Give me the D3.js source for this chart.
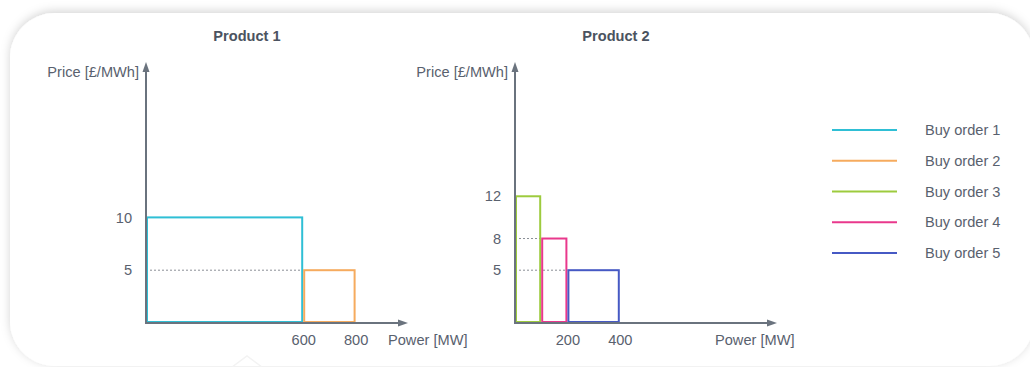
<!DOCTYPE html>
<html>
<head>
<meta charset="utf-8">
<script src="https://cdn.jsdelivr.net/npm/d3@7"></script>
<style>
  html, body { margin: 0; padding: 0; background: #ffffff; }
  svg { display: block; }
  text { font-family: "Liberation Sans", Arial, Helvetica, sans-serif; }
</style>
</head>
<body>
<div id="chart"></div>
<script>
// ---- data ----
const productTitles = ["Product 1", "Product 2"];
const orderNames = ["Buy order 1", "Buy order 2", "Buy order 3", "Buy order 4", "Buy order 5"];
const orderProduct = [0, 0, 1, 1, 1];
const orderStart = [0, 600, 0, 100, 200];     // MW
const orderEnd = [600, 800, 100, 200, 400];   // MW
const orderPrice = [10, 5, 12, 8, 5];         // £/MWh
const yTickValues = [[5, 10], [5, 8, 12]];
const xTickValues = [[600, 800], [200, 400]];
const yAxisLabel = "Price [£/MWh]";
const xAxisLabel = "Power [MW]";

// ---- styles ----
const orderColors = ["#2fbfd5", "#f6ab5e", "#9dcb3e", "#e9388c", "#4659c4"];
const axisColor = "#6a737e";
const textColor = "#59616e";
const FS = 14.6;
const W = 1030, H = 367;

const svg = d3.select("#chart").append("svg").attr("width", W).attr("height", H);

// card with soft shadow
const defs = svg.append("defs");
const f = defs.append("filter").attr("id", "shadow").attr("x", "-5%").attr("y", "-20%").attr("width", "110%").attr("height", "140%");
f.append("feDropShadow").attr("dx", 0).attr("dy", -2).attr("stdDeviation", 5)
  .attr("flood-color", "#000").attr("flood-opacity", 0.17);
svg.append("rect").attr("x", 10).attr("y", 13).attr("width", 1024).attr("height", 353)
  .attr("rx", 45).attr("ry", 45).attr("fill", "#ffffff").attr("filter", "url(#shadow)");
// faint caret at bottom
svg.append("path").attr("d", "M232,367 L247,356 L262,367").attr("fill", "none")
  .attr("stroke", "#f3f3f3").attr("stroke-width", 1.5);

// panels
const panelOrigin = [146, 515];
const xMax = 1000, yMax = 25;
const baseY = 323, topY = 59;

productTitles.forEach((title, p) => {
  const x0 = panelOrigin[p];
  const x = d3.scaleLinear().domain([0, xMax]).range([x0, x0 + 262]);
  const y = d3.scaleLinear().domain([0, yMax]).range([baseY, topY]);
  const g = svg.append("g");

  // title
  g.append("text").attr("x", x0 + 101).attr("y", 41).attr("text-anchor", "middle")
    .attr("font-size", FS).attr("font-weight", "bold").attr("fill", "#4b5360").text(title);

  const idx = orderNames.map((d, i) => i).filter(i => orderProduct[i] === p);

  // dotted guide lines
  g.selectAll("line.guide").data(idx.filter(i => orderStart[i] > 0)).enter().append("line")
    .attr("x1", x(0)).attr("x2", i => x(orderStart[i]))
    .attr("y1", i => y(orderPrice[i])).attr("y2", i => y(orderPrice[i]))
    .attr("stroke", "#8a8f96").attr("stroke-width", 1).attr("stroke-dasharray", "2,2");

  // order rectangles (outlines)
  g.selectAll("rect.order").data(idx).enter().append("rect")
    .attr("x", i => x(orderStart[i]) + 1)
    .attr("y", i => y(orderPrice[i]))
    .attr("width", i => x(orderEnd[i]) - x(orderStart[i]) - 2)
    .attr("height", i => y(0) - y(orderPrice[i]) - 1)
    .attr("fill", "none").attr("stroke", i => orderColors[i]).attr("stroke-width", 2);

  // axes lines + arrows
  g.append("line").attr("x1", x0).attr("x2", x0).attr("y1", baseY + 1).attr("y2", 70)
    .attr("stroke", axisColor).attr("stroke-width", 2);
  g.append("path").attr("d", `M${x0},62 L${x0 - 3.5},72 L${x0 + 3.5},72 Z`).attr("fill", axisColor);
  const xEnd = x(xMax);
  g.append("line").attr("x1", x0 - 1).attr("x2", xEnd - 8).attr("y1", baseY).attr("y2", baseY)
    .attr("stroke", axisColor).attr("stroke-width", 2);
  g.append("path").attr("d", `M${xEnd},${baseY} L${xEnd - 10},${baseY - 3.5} L${xEnd - 10},${baseY + 3.5} Z`).attr("fill", axisColor);

  // tick labels via d3 axes
  const ya = g.append("g").attr("transform", `translate(${x0},0)`)
    .call(d3.axisLeft(y).tickValues(yTickValues[p]).tickSize(0).tickPadding(14).tickFormat(d3.format("d")));
  const xa = g.append("g").attr("transform", `translate(0,${baseY})`)
    .call(d3.axisBottom(x).tickValues(xTickValues[p]).tickSize(0).tickPadding(12).tickFormat(d3.format("d")));
  [ya, xa].forEach(a => {
    a.select(".domain").remove();
    a.selectAll("text").attr("font-size", FS).attr("fill", textColor)
      .attr("font-family", "'Liberation Sans', Arial, sans-serif");
  });

  // axis labels
  g.append("text").attr("x", x0 - 7).attr("y", 77).attr("text-anchor", "end")
    .attr("font-size", FS).attr("fill", textColor).text(yAxisLabel);
  g.append("text").attr("x", p === 0 ? x0 + 242 : x0 + 200).attr("y", 345)
    .attr("font-size", FS).attr("fill", textColor).text(xAxisLabel);
});

// legend
const legend = svg.append("g");
const ly = d3.scalePoint().domain(orderNames).range([130, 253]);
orderNames.forEach((name, i) => {
  legend.append("line").attr("x1", 832).attr("x2", 897).attr("y1", ly(name)).attr("y2", ly(name))
    .attr("stroke", orderColors[i]).attr("stroke-width", 2);
  legend.append("text").attr("x", 925).attr("y", ly(name)).attr("dy", "0.35em")
    .attr("font-size", FS).attr("fill", textColor).text(name);
});
</script>
</body>
</html>
